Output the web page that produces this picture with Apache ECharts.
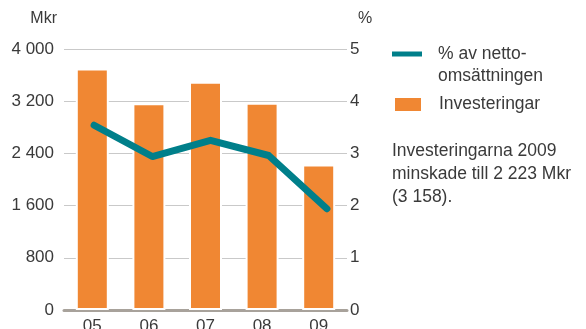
<!DOCTYPE html>
<html>
<head>
<meta charset="utf-8">
<script src="https://cdn.jsdelivr.net/npm/echarts@6/dist/echarts.min.js"></script>
<style>
html,body{margin:0;padding:0;background:#fff;}
#c{width:586px;height:329px;}
</style>
</head>
<body>
<div id="c"></div>
<script>
var categories = ['05', '06', '07', '08', '09'];
var investeringar = [3700, 3170, 3500, 3175, 2230];
var procentAvNetto = [3.54, 2.94, 3.25, 2.96, 1.94];
var leftTicks = [0, 800, 1600, 2400, 3200, 4000];
var rightTicks = [0, 1, 2, 3, 4, 5];
var noteLines = ['Investeringarna 2009', 'minskade till 2 223 Mkr', '(3 158).'];

var FONT = "'Liberation Sans', Arial, sans-serif";
var TXT = '#3a3a3a';
var TEAL = '#007f8a';
var ORANGE = '#f08733';

function fmt(v) { return String(v).replace(/\B(?=(\d{3})+(?!\d))/g, ' '); }

var chart = echarts.init(document.getElementById('c'), null, {renderer: 'canvas'});
chart.setOption({
  animation: false,
  backgroundColor: '#fff',
  grid: [
    {left: 64, right: 239, top: 49, bottom: 19, containLabel: false, outerBoundsMode: 'none'},
    {left: 65, right: 230, top: 49, bottom: 19, containLabel: false, outerBoundsMode: 'none'}
  ],
  legend: [
    {
      left: 392, top: 21, padding: 0, orient: 'vertical',
      icon: 'rect', itemWidth: 30, itemHeight: 5,
      data: ['% av nettoomsättningen'],
      formatter: function () { return '\u00a0\n% av netto-\nomsättningen'; },
      textStyle: {fontFamily: FONT, fontSize: 17.5, color: TXT, lineHeight: 22, padding: [0, 0, 0, 11]}
    },
    {
      left: 393, top: 93.5, padding: 0, orient: 'vertical',
      icon: 'rect', itemWidth: 28, itemHeight: 15,
      data: ['Investeringar'],
      textStyle: {fontFamily: FONT, fontSize: 17.5, color: TXT, lineHeight: 22, padding: [0, 0, 0, 12]}
    }
  ],
  graphic: [
    {
      type: 'text', left: 392, top: 140,
      style: {text: noteLines.join('\n'), font: '17.5px ' + FONT, fill: TXT, lineHeight: 23}
    }
  ],
  xAxis: [
    {
      type: 'category', data: categories, gridIndex: 0,
      axisLine: {lineStyle: {color: '#a8a29b', width: 3}},
      axisTick: {show: false},
      axisLabel: {color: TXT, fontFamily: FONT, fontSize: 17, margin: 8}
    },
    {
      type: 'category', data: categories, gridIndex: 1, show: false
    }
  ],
  yAxis: [
    {
      type: 'value', gridIndex: 0, min: leftTicks[0], max: leftTicks[leftTicks.length - 1], interval: leftTicks[1] - leftTicks[0],
      name: 'Mkr', nameLocation: 'end', nameGap: 22,
      nameTextStyle: {color: TXT, fontFamily: FONT, fontSize: 16, align: 'right', padding: [0, 7, 0, 0]},
      axisLine: {show: false}, axisTick: {show: false},
      axisLabel: {color: TXT, fontFamily: FONT, fontSize: 17, margin: 10, formatter: fmt},
      splitLine: {lineStyle: {color: '#c9c9c9', width: 1}}
    },
    {
      type: 'value', gridIndex: 0, min: rightTicks[0], max: rightTicks[rightTicks.length - 1], interval: rightTicks[1] - rightTicks[0],
      name: '%', nameLocation: 'end', nameGap: 22,
      nameTextStyle: {color: TXT, fontFamily: FONT, fontSize: 16, align: 'left', padding: [0, 0, 0, 11]},
      position: 'right',
      axisLine: {show: false}, axisTick: {show: false},
      axisLabel: {color: TXT, fontFamily: FONT, fontSize: 17, margin: 3},
      splitLine: {show: false}
    },
    {
      type: 'value', gridIndex: 1, min: rightTicks[0], max: rightTicks[rightTicks.length - 1], show: false,
      splitLine: {show: false}
    }
  ],
  series: [
    {
      name: 'Investeringar', type: 'bar', data: investeringar, xAxisIndex: 0, yAxisIndex: 0,
      barWidth: 33,
      itemStyle: {color: ORANGE, borderColor: '#fff', borderWidth: 2},
      z: 2
    },
    {
      name: '% av nettoomsättningen', type: 'line', data: procentAvNetto, xAxisIndex: 1, yAxisIndex: 2,
      symbol: 'none',
      lineStyle: {color: TEAL, width: 7, cap: 'round', join: 'round'},
      itemStyle: {color: TEAL},
      z: 3
    }
  ]
});
</script>
</body>
</html>
